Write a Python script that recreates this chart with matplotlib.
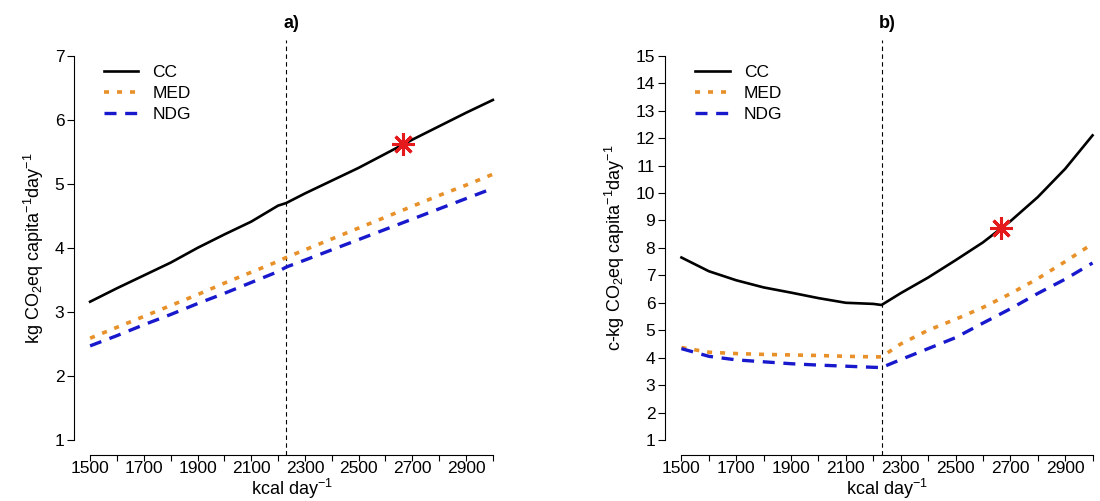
import matplotlib
matplotlib.use("Agg")
import matplotlib.pyplot as plt

plt.rcParams['font.family'] = ['Liberation Sans', 'DejaVu Sans']
plt.rcParams['mathtext.fontset'] = 'custom'
plt.rcParams['mathtext.rm'] = 'Liberation Sans'
plt.rcParams['mathtext.it'] = 'Liberation Sans:italic'

# kcal per day (2230 = reference intake, the kink)
kcal = [1500, 1600, 1700, 1800, 1900, 2000, 2100, 2200, 2230,
        2300, 2400, 2500, 2600, 2700, 2800, 2900, 3000]

# panel a) kg CO2eq capita-1 day-1
cc_a  = [3.16, 3.37, 3.57, 3.77, 4.00, 4.21, 4.41, 4.66, 4.70,
         4.85, 5.05, 5.25, 5.47, 5.69, 5.90, 6.11, 6.31]
med_a = [2.59, 2.76, 2.93, 3.10, 3.27, 3.45, 3.62, 3.79, 3.85,
         3.97, 4.14, 4.31, 4.48, 4.65, 4.82, 4.98, 5.15]
ndg_a = [2.47, 2.63, 2.80, 2.96, 3.13, 3.29, 3.46, 3.63, 3.70,
         3.81, 3.97, 4.13, 4.29, 4.45, 4.61, 4.77, 4.93]

# panel b) c-kg CO2eq capita-1 day-1
cc_b  = [7.65, 7.15, 6.82, 6.56, 6.37, 6.17, 6.00, 5.96, 5.92,
         6.35, 6.92, 7.55, 8.20, 8.97, 9.85, 10.88, 12.10]
med_b = [4.37, 4.20, 4.15, 4.12, 4.10, 4.08, 4.05, 4.03, 4.03,
         4.50, 5.00, 5.40, 5.83, 6.33, 6.88, 7.50, 8.15]
ndg_b = [4.33, 4.05, 3.92, 3.85, 3.78, 3.73, 3.69, 3.65, 3.64,
         3.93, 4.33, 4.73, 5.26, 5.78, 6.34, 6.86, 7.45]

ref_kcal = 2230
star_a = (2665, 5.625)
star_b = (2665, 8.73)

xticks = list(range(1500, 3001, 100))
xlabels = [str(v) if (v - 1500) % 200 == 0 else '' for v in xticks]

orange = '#E8912A'
blue = '#1818CC'

fig = plt.figure(figsize=(11, 5.01), dpi=100)
W, H = 1100, 501
ax_a = fig.add_axes([74 / W, (H - 455.4) / H, 435 / W, 415 / H])
ax_b = fig.add_axes([665 / W, (H - 455.4) / H, 444 / W, 415 / H])


def draw(ax, cc, med, ndg, star, ymax, ylabel, title):
    ax.axvline(ref_kcal, color='black', lw=0.8, ls=(0, (4, 3)), zorder=1)
    ax.plot(kcal, cc, color='black', lw=1.9, label='CC', zorder=3)
    ax.plot(kcal, med, color=orange, lw=2.6, ls=(0, (1.4, 2.2)), label='MED', zorder=2)
    ax.plot(kcal, ndg, color=blue, lw=2.4, ls=(0, (3.6, 2.6)), label='NDG', zorder=2)
    ax.plot(star[0], star[1], marker=(8, 2, 0), color='#E41A1C', ms=16, mew=2.2, zorder=4)

    ax.set_xlim(1440, 3060)
    pad = (ymax - 1) * 0.04
    ax.set_ylim(1 - pad, ymax + pad)
    for s in ['top', 'right']:
        ax.spines[s].set_visible(False)
    ax.spines['left'].set_bounds(1, ymax)
    ax.spines['bottom'].set_bounds(1500, 3000)
    ax.set_xticks(xticks)
    ax.set_xticklabels(xlabels)
    ax.set_yticks(range(1, ymax + 1))
    ax.tick_params(axis='x', length=4, width=0.8, pad=0, labelsize=12.5)
    ax.tick_params(axis='y', length=5, width=0.8, pad=2, labelsize=12.5)
    ax.set_xlabel('kcal day$^{-1}$', fontsize=13, labelpad=1)
    ax.set_ylabel(ylabel, fontsize=13, labelpad=6)
    ax.set_title(title, fontsize=13, fontweight='bold', pad=9)
    ax.legend(loc='upper left', bbox_to_anchor=(0.068, 0.94), frameon=False,
              fontsize=12.5, borderpad=0, borderaxespad=0, handlelength=2.0,
              handletextpad=0.8, labelspacing=0.32)


draw(ax_a, cc_a, med_a, ndg_a, star_a, 7,
     'kg CO$_2$eq capita$^{-1}$day$^{-1}$', 'a)')
draw(ax_b, cc_b, med_b, ndg_b, star_b, 15,
     'c-kg CO$_2$eq capita$^{-1}$day$^{-1}$', 'b)')

fig.savefig('out.png', dpi=100)
